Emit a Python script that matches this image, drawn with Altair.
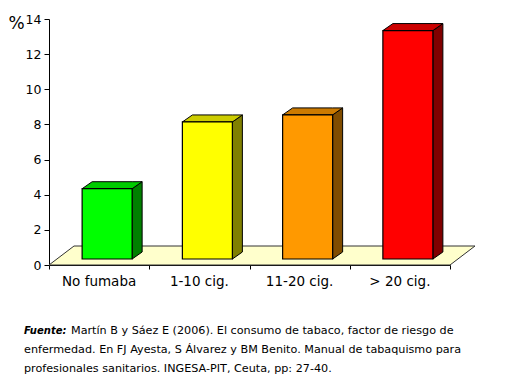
import altair as alt
import pandas as pd

# ---- data ----
categories = ["No fumaba", "1-10 cig.", "11-20 cig.", "> 20 cig."]
values = [4.0, 7.8, 8.2, 13.0]
y_ticks = [0, 2, 4, 6, 8, 10, 12, 14]
footnote_lead = "Fuente:"
footnote_lines = [
    "Martín B y Sáez E (2006). El consumo de tabaco, factor de riesgo de",
    "enfermedad. En FJ Ayesta, S Álvarez y BM Benito. Manual de tabaquismo para",
    "profesionales sanitarios. INGESA-PIT, Ceuta, pp: 27-40.",
]

# ---- styles ----
front_colors = ["#00FF00", "#FFFF00", "#FF9900", "#FF0000"]
top_colors = ["#00CC00", "#CCCC00", "#CC7A00", "#CC0000"]
side_colors = ["#008000", "#808000", "#804C00", "#800000"]
FONT = "DejaVu Sans"

W, H = 401, 246
X_MAX, Y_MAX = 4, 14
PX_X = W / X_MAX
PX_Y = H / Y_MAX
FLOOR_DX, FLOOR_DY = 25 / PX_X, 19 / PX_Y      # floor depth (oblique)
FRONT_DX, FRONT_DY = 8 / PX_X, 6 / PX_Y        # bar front-face depth
HALF_W = 25 / PX_X                              # half bar width
DEPTH_DX, DEPTH_DY = 10 / PX_X, 7 / PX_Y        # bar depth

# ---- build tables ----
floor = pd.DataFrame({
    "x": [0, FLOOR_DX, X_MAX, X_MAX + FLOOR_DX],
    "y": [0, 0, 0, FLOOR_DY],
    "y2": [0, FLOOR_DY, FLOOR_DY, FLOOR_DY],
})

front_rows, top_rows, side_rows, label_rows = [], [], [], []
for i, (c, v) in enumerate(zip(categories, values)):
    xl = i + 0.5 + FRONT_DX - HALF_W
    xr = xl + 2 * HALF_W
    b = FRONT_DY
    t = FRONT_DY + v
    front_rows.append({"cat": c, "x": xl, "x2": xr, "y": b, "y2": t, "col": front_colors[i]})
    for x, y, y2 in [(xl, t, t), (xl + DEPTH_DX, t, t + DEPTH_DY),
                     (xr, t, t + DEPTH_DY), (xr + DEPTH_DX, t + DEPTH_DY, t + DEPTH_DY)]:
        top_rows.append({"cat": c, "x": x, "y": y, "y2": y2, "col": top_colors[i]})
    for x, y, y2 in [(xr, b, t), (xr + DEPTH_DX, b + DEPTH_DY, t + DEPTH_DY)]:
        side_rows.append({"cat": c, "x": x, "y": y, "y2": y2, "col": side_colors[i]})
    label_rows.append({"cat": c, "x": i + 0.5})

front = pd.DataFrame(front_rows)
top = pd.DataFrame(top_rows)
side = pd.DataFrame(side_rows)
labels = pd.DataFrame(label_rows)

x_scale = alt.Scale(domain=[0, X_MAX], nice=False, zero=False)
y_scale = alt.Scale(domain=[0, Y_MAX], nice=False)
x_axis = alt.Axis(values=[0, 1, 2, 3, 4], labels=False, title=None, grid=False,
                  tickSize=4, domainColor="black", tickColor="black")
y_axis = alt.Axis(values=y_ticks, grid=False, tickSize=5, labelPadding=3,
                  labelFontSize=12.5, labelFont=FONT, labelColor="black",
                  domainColor="black", tickColor="black",
                  title="%", titleAngle=0, titleX=-33, titleY=4,
                  titleAlign="center", titleBaseline="middle",
                  titleFontSize=17, titleFontWeight="normal", titleFont=FONT,
                  titleColor="black")

X = lambda f="x": alt.X(f"{f}:Q", scale=x_scale, axis=x_axis)
Y = lambda f="y": alt.Y(f"{f}:Q", scale=y_scale, axis=y_axis, stack=None)

floor_layer = alt.Chart(floor).mark_area(
    fill="#FFFFCC", stroke="#333333", strokeWidth=1, interpolate="linear"
).encode(x=X(), y=Y(), y2="y2:Q")

side_layer = alt.Chart(side).mark_area(
    stroke="black", strokeWidth=1, interpolate="linear"
).encode(x=X(), y=Y(), y2="y2:Q", detail="cat:N",
         fill=alt.Fill("col:N", scale=None))

top_layer = alt.Chart(top).mark_area(
    stroke="black", strokeWidth=1, interpolate="linear"
).encode(x=X(), y=Y(), y2="y2:Q", detail="cat:N",
         fill=alt.Fill("col:N", scale=None))

front_layer = alt.Chart(front).mark_rect(
    stroke="black", strokeWidth=1.2
).encode(x=X(), x2="x2:Q", y=Y(), y2="y2:Q",
         fill=alt.Fill("col:N", scale=None))

label_layer = alt.Chart(labels).mark_text(
    font=FONT, fontSize=13.5, baseline="middle", align="center", color="black"
).encode(x=X(), y=alt.value(263), text="cat:N")

FOOT_SIZE = 11.2
foot_layers = [
    alt.Chart(pd.DataFrame({"t": [footnote_lead]})).mark_text(
        font=FONT, fontSize=10, fontWeight="bold", fontStyle="italic",
        align="left", baseline="middle", color="black"
    ).encode(x=alt.value(-25), y=alt.value(312), text="t:N")
]
for k, (line, xo) in enumerate(zip(footnote_lines, [22, -25, -25])):
    foot_layers.append(
        alt.Chart(pd.DataFrame({"t": [line]})).mark_text(
            font=FONT, fontSize=FOOT_SIZE, align="left", baseline="middle", color="black"
        ).encode(x=alt.value(xo), y=alt.value(312 + 19 * k), text="t:N")
    )

chart = alt.layer(
    floor_layer, side_layer, top_layer, front_layer, label_layer, *foot_layers
).properties(
    width=W, height=H,
    autosize=alt.AutoSizeParams(type="none"),
    padding={"left": 41, "top": 11, "right": 47, "bottom": 111},
    background="white",
).configure_view(stroke=None)

chart.save("out.html", embed_options={"renderer": "svg", "actions": False})
